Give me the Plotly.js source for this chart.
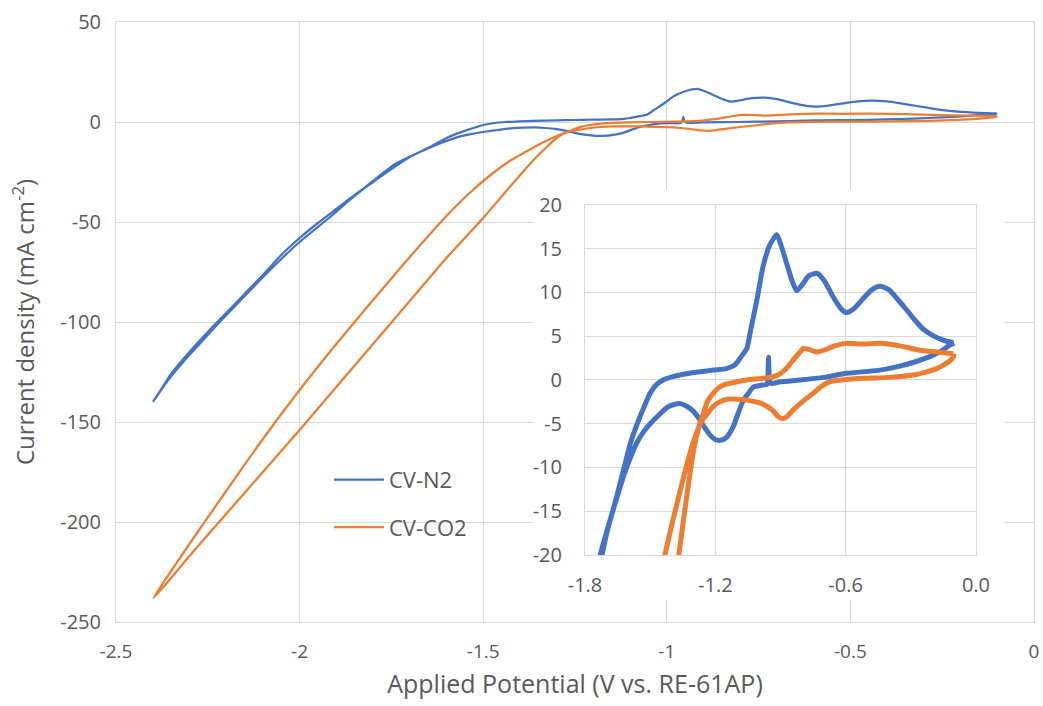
<!DOCTYPE html>
<html><head><meta charset="utf-8">
<script src="https://cdn.plot.ly/plotly-3.0.1.min.js"></script>
<style>html,body{margin:0;padding:0;background:#fff;}#chart{width:1043px;height:706px;}</style>
</head><body><div id="chart"></div>
<script>
const seriesNames = ['CV-N2', 'CV-CO2'];

const n2Potential = [
 -0.10,-0.12,-0.16,-0.21,-0.29,-0.365,-0.45,-0.595,-0.70,-0.81,-0.90,-0.945,-0.952,-0.955,-0.958,-0.962,
 -0.99,-1.025,-1.05,-1.071,-1.095,-1.117,-1.15,-1.178,-1.20,-1.224,-1.25,-1.27,-1.30,-1.332,-1.36,-1.39,
 -1.42,-1.46,-1.50,-1.53,-1.562,-1.59,-1.62,-1.66,-1.70,-1.74,-1.80,-1.86,-1.92,-2.00,-2.05,-2.11,-2.16,
 -2.21,-2.26,-2.31,-2.36,-2.398,
 -2.39,-2.35,-2.30,-2.25,-2.20,-2.15,-2.10,-2.05,-2.00,-1.95,-1.90,-1.85,-1.80,-1.75,-1.70,-1.654,-1.62,
 -1.593,-1.57,-1.547,-1.52,-1.50,-1.47,-1.44,-1.40,-1.363,-1.30,-1.25,-1.209,-1.15,-1.117,-1.10,-1.08,
 -1.055,-1.035,-1.009,-0.98,-0.95,-0.917,-0.90,-0.87,-0.845,-0.825,-0.80,-0.77,-0.733,-0.70,-0.66,-0.62,
 -0.595,-0.56,-0.52,-0.48,-0.442,-0.40,-0.36,-0.319,-0.28,-0.242,-0.20,-0.166,-0.13,-0.104
];
const n2Current = [
 4.2,4.0,3.3,2.7,2.0,1.5,1.1,0.76,0.3,0.0,-0.2,-0.4,0.6,2.6,0.4,-0.5,
 -0.6,-0.8,-1.6,-2.3,-3.8,-5.3,-6.6,-6.9,-6.8,-6.3,-5.4,-4.6,-3.6,-3.0,-2.7,-2.8,
 -3.1,-4.0,-5.0,-5.9,-7.2,-8.8,-10.8,-14.0,-17.3,-21.0,-29.5,-38.5,-48.0,-60.0,-68.5,-79.5,-89.0,
 -98.5,-108.5,-118.5,-129.5,-139.5,
 -137.5,-126.0,-115.0,-105.0,-95.5,-86.0,-76.5,-66.5,-58.0,-50.5,-43.5,-36.5,-30.0,-23.5,-17.5,-13.3,-10.0,
 -7.4,-5.7,-4.2,-2.6,-1.5,-0.5,0.0,0.35,0.57,0.85,1.0,1.14,1.3,1.6,2.0,2.7,
 3.6,6.0,9.1,13.0,15.4,16.6,15.6,13.2,11.2,10.2,10.9,11.9,12.2,11.4,9.6,8.1,
 7.7,8.2,9.3,10.3,10.7,10.3,9.2,8.0,6.8,5.8,5.1,4.7,4.4,4.3
];

const co2Potential = [
 -0.10,-0.105,-0.12,-0.15,-0.181,-0.23,-0.288,-0.40,-0.519,-0.60,-0.672,-0.71,-0.749,-0.80,-0.841,-0.871,
 -0.89,-0.91,-0.935,-0.963,-1.00,-1.055,-1.10,-1.147,-1.18,-1.209,-1.235,-1.265,-1.30,-1.34,-1.39,-1.432,
 -1.48,-1.54,-1.60,-1.70,-1.80,-1.90,-2.00,-2.10,-2.20,-2.30,-2.35,-2.398,
 -2.35,-2.30,-2.20,-2.10,-2.00,-1.90,-1.80,-1.70,-1.60,-1.50,-1.43,-1.366,-1.33,-1.30,-1.275,-1.255,
 -1.235,-1.209,-1.185,-1.163,-1.10,-1.055,-0.98,-0.93,-0.902,-0.87,-0.841,-0.81,-0.795,-0.77,-0.733,-0.70,
 -0.65,-0.595,-0.52,-0.442,-0.35,-0.258,-0.18,-0.104
];
const co2Current = [
 3.0,2.6,2.2,1.7,1.3,0.9,0.57,0.3,0.19,0.05,-0.2,-0.7,-1.5,-2.5,-3.4,-4.2,
 -4.4,-4.2,-3.5,-3.0,-2.6,-2.3,-2.2,-2.2,-2.5,-3.0,-3.8,-4.8,-7.0,-10.5,-15.5,-20.0,
 -26.5,-36.0,-47.0,-67.5,-89.0,-111.0,-134.0,-158.5,-184.5,-211.0,-224.5,-238.0,
 -228.0,-217.0,-196.0,-175.0,-154.0,-132.5,-111.0,-89.5,-68.0,-48.0,-33.0,-19.6,-13.0,-8.0,-5.3,-3.8,
 -2.4,-1.5,-0.9,-0.57,-0.2,0.0,0.2,0.4,0.7,1.4,2.3,3.2,3.6,3.5,3.2,3.4,
 3.9,4.2,4.1,4.2,3.9,3.4,3.2,3.0
];

const mainXTicks = [-2.5, -2, -1.5, -1, -0.5, 0];
const mainXLabels = ['-2.5', '-2', '-1.5', '-1', '-0.5', '0'];
const mainYTicks = [50, 0, -50, -100, -150, -200, -250];
const mainYLabels = ['50', '0', '-50', '-100', '-150', '-200', '-250'];
const insetXTicks = [-1.8, -1.2, -0.6, 0];
const insetXLabels = ['-1.8', '-1.2', '-0.6', '0.0'];
const insetYTicks = [20, 15, 10, 5, 0, -5, -10, -15, -20];
const insetYLabels = ['20', '15', '10', '5', '0', '-5', '-10', '-15', '-20'];

const blue = '#4472C4', orange = '#ED7D31', grid = '#d9d9d9', txt = '#595959';

const traces = [
  {x: n2Potential, y: n2Current, name: seriesNames[0], type: 'scatter', mode: 'lines',
   line: {color: blue, width: 2.25, shape: 'spline', smoothing: 0.6}, xaxis: 'x', yaxis: 'y', legendgroup: 'a'},
  {x: co2Potential, y: co2Current, name: seriesNames[1], type: 'scatter', mode: 'lines',
   line: {color: orange, width: 2.25, shape: 'spline', smoothing: 0.6}, xaxis: 'x', yaxis: 'y', legendgroup: 'b'},
  {x: [], y: [], type: 'scatter', mode: 'lines', xaxis: 'x2', yaxis: 'y2', showlegend: false, hoverinfo: 'skip'},
  {x: n2Potential, y: n2Current, name: seriesNames[0], type: 'scatter', mode: 'lines',
   line: {color: blue, width: 5, shape: 'spline', smoothing: 0.6}, xaxis: 'x3', yaxis: 'y3', showlegend: false},
  {x: co2Potential, y: co2Current, name: seriesNames[1], type: 'scatter', mode: 'lines',
   line: {color: orange, width: 5, shape: 'spline', smoothing: 0.6}, xaxis: 'x3', yaxis: 'y3', showlegend: false}
];

const baseAxis = {showgrid: true, gridcolor: grid, gridwidth: 1, zeroline: false, showline: true,
  mirror: true, linecolor: grid, linewidth: 1, ticks: '', color: txt};

const layout = {
  width: 1043, height: 706,
  margin: {l: 116, r: 9, t: 22, b: 84, pad: 0},
  paper_bgcolor: '#ffffff', plot_bgcolor: '#ffffff',
  font: {family: 'Open Sans, sans-serif', color: txt},
  showlegend: true,
  legend: {x: 0.232, y: 0.272, xanchor: 'left', yanchor: 'top', font: {size: 22, color: txt},
    traceorder: 'grouped', tracegroupgap: 16, bgcolor: 'rgba(0,0,0,0)', itemwidth: 50},
  xaxis: Object.assign({}, baseAxis, {domain: [0, 1], range: [-2.5, 0], anchor: 'y',
    tickmode: 'array', tickvals: mainXTicks, ticktext: mainXLabels, tickfont: {size: 19, color: txt},
    ticklabelstandoff: 12,
    title: {text: 'Applied Potential (V vs. RE-61AP)', font: {size: 25, color: txt}, standoff: 12}}),
  yaxis: Object.assign({}, baseAxis, {domain: [0, 1], range: [-250, 50], anchor: 'x',
    tickmode: 'array', tickvals: mainYTicks, ticktext: mainYLabels, tickfont: {size: 20, color: txt},
    ticklabelstandoff: 10,
    title: {text: 'Current density (mA cm<sup>-2</sup>)', font: {size: 24, color: txt}, standoff: 18}}),
  xaxis2: {domain: [0.4542, 0.9684], range: [0, 1], anchor: 'y2', visible: false, fixedrange: true},
  yaxis2: {domain: [0.0367, 0.72], range: [0, 1], anchor: 'x2', visible: false, fixedrange: true},
  xaxis3: Object.assign({}, baseAxis, {domain: [0.5109, 0.9368], range: [-1.8, 0], anchor: 'y3',
    tickmode: 'array', tickvals: insetXTicks, ticktext: insetXLabels, tickfont: {size: 20, color: txt},
    ticklabelstandoff: 12}),
  yaxis3: Object.assign({}, baseAxis, {domain: [0.1117, 0.695], range: [-20, 20], anchor: 'x3',
    tickmode: 'array', tickvals: insetYTicks, ticktext: insetYLabels, tickfont: {size: 20, color: txt},
    ticklabelstandoff: 18})
};

Plotly.newPlot('chart', traces, layout, {staticPlot: true, displayModeBar: false});
</script>
</body></html>
